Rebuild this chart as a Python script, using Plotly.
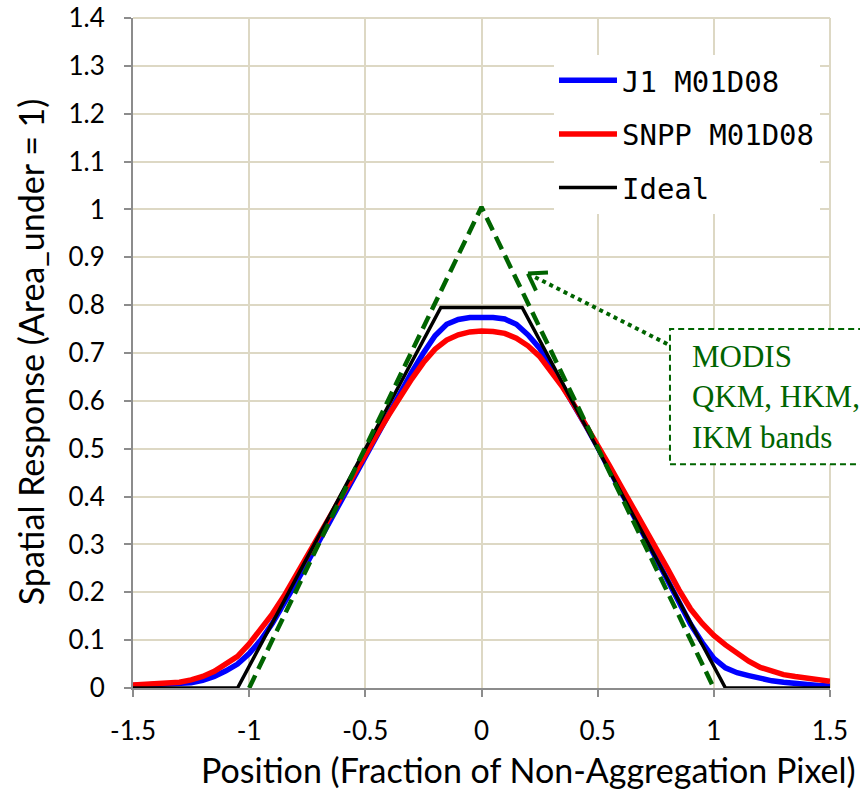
import plotly.graph_objects as go

# ---------------- data ----------------
x_pos = [-1.50, -1.45, -1.40, -1.35, -1.30, -1.25, -1.20, -1.15, -1.10, -1.05,
         -1.00, -0.95, -0.90, -0.85, -0.80, -0.75, -0.70, -0.65, -0.60, -0.55,
         -0.50, -0.45, -0.40, -0.35, -0.30, -0.25, -0.20, -0.15, -0.10, -0.05,
         0.00, 0.05, 0.10, 0.15, 0.20, 0.25, 0.30, 0.35, 0.40, 0.45,
         0.50, 0.55, 0.60, 0.65, 0.70, 0.75, 0.80, 0.85, 0.90, 0.95,
         1.00, 1.05, 1.10, 1.15, 1.20, 1.25, 1.30, 1.35, 1.40, 1.45, 1.50]

j1_m01d08 = [0.005, 0.006, 0.006, 0.007, 0.008, 0.011, 0.016, 0.024, 0.036, 0.050,
             0.072, 0.100, 0.135, 0.175, 0.218, 0.262, 0.306, 0.350, 0.395, 0.440,
             0.486, 0.530, 0.575, 0.618, 0.660, 0.700, 0.736, 0.760, 0.770, 0.774,
             0.775, 0.774, 0.771, 0.760, 0.738, 0.710, 0.672, 0.632, 0.590, 0.547,
             0.503, 0.458, 0.413, 0.367, 0.320, 0.272, 0.226, 0.178, 0.133, 0.095,
             0.062, 0.042, 0.032, 0.026, 0.020, 0.015, 0.012, 0.009, 0.007, 0.005, 0.004]

snpp_m01d08 = [0.006, 0.007, 0.008, 0.009, 0.012, 0.017, 0.024, 0.035, 0.050, 0.066,
               0.092, 0.122, 0.155, 0.192, 0.233, 0.275, 0.318, 0.360, 0.403, 0.446,
               0.490, 0.530, 0.570, 0.610, 0.646, 0.680, 0.708, 0.727, 0.738, 0.744,
               0.746, 0.745, 0.741, 0.731, 0.715, 0.693, 0.662, 0.628, 0.590, 0.550,
               0.508, 0.465, 0.422, 0.380, 0.337, 0.293, 0.250, 0.205, 0.165, 0.135,
               0.110, 0.090, 0.072, 0.056, 0.043, 0.034, 0.028, 0.024, 0.020, 0.017, 0.014]

ideal_x = [-1.5, -1.05, -0.175, 0.175, 1.05, 1.5]
ideal_y = [0.0, 0.0, 0.795, 0.795, 0.0, 0.0]

modis_x = [-1.0, 0.0, 1.0]
modis_y = [0.0, 1.005, 0.0]

x_ticks = [-1.5, -1.0, -0.5, 0.0, 0.5, 1.0, 1.5]
x_ticktext = ["-1.5", "-1", "-0.5", "0", "0.5", "1", "1.5"]
y_ticks = [0.0, 0.1, 0.2, 0.3, 0.4, 0.5, 0.6, 0.7, 0.8, 0.9, 1.0, 1.1, 1.2, 1.3, 1.4]
y_ticktext = ["0", "0.1", "0.2", "0.3", "0.4", "0.5", "0.6", "0.7", "0.8", "0.9",
              "1", "1.1", "1.2", "1.3", "1.4"]

arrow_tip = (0.2, 0.866)
arrow_tail = (0.811, 0.716)

# ---------------- styling ----------------
GREEN = "#006400"
GRID = "#ddd8c4"
AXIS = "#8c8c8c"
TICK_FONT = dict(family="Lato", size=26, color="#000000")

fig = go.Figure()
fig.add_trace(go.Scatter(x=x_pos, y=j1_m01d08, mode="lines", name="J1 M01D08",
                         legendgroup="a", line=dict(color="#0000ff", width=5.5)))
fig.add_trace(go.Scatter(x=x_pos, y=snpp_m01d08, mode="lines", name="SNPP M01D08",
                         legendgroup="b", line=dict(color="#ff0000", width=5.5)))
fig.add_trace(go.Scatter(x=ideal_x, y=ideal_y, mode="lines", name="Ideal",
                         legendgroup="c", line=dict(color="#000000", width=3.5)))
fig.add_trace(go.Scatter(x=modis_x, y=modis_y, mode="lines", name="MODIS",
                         showlegend=False,
                         line=dict(color=GREEN, width=4.5, dash="14px,7px")))

fig.update_layout(
    width=860, height=795,
    margin=dict(l=133, r=30, t=18, b=107, autoexpand=False),
    paper_bgcolor="white", plot_bgcolor="white",
    showlegend=True,
    legend=dict(x=0.604, y=0.945, xanchor="left", yanchor="top",
                bgcolor="white", borderwidth=0,
                font=dict(family="DejaVu Sans Mono", size=29, color="#000000"),
                traceorder="grouped", tracegroupgap=13, itemwidth=58),
    xaxis=dict(range=[-1.5, 1.5], tickvals=x_ticks, ticktext=x_ticktext,
               showgrid=True, gridcolor=GRID, gridwidth=2, zeroline=False,
               showline=True, linecolor=AXIS, linewidth=2,
               ticks="outside", ticklen=7, tickcolor=AXIS, tickwidth=2,
               tickfont=TICK_FONT, ticklabelstandoff=12),
    yaxis=dict(range=[0, 1.4], tickvals=y_ticks, ticktext=y_ticktext,
               showgrid=True, gridcolor=GRID, gridwidth=2, zeroline=False,
               showline=True, linecolor=AXIS, linewidth=2,
               ticks="outside", ticklen=7, tickcolor=AXIS, tickwidth=2,
               tickfont=TICK_FONT, ticklabelstandoff=14),
)

# frame lines at top/right in grid colour
fig.add_shape(type="line", xref="paper", yref="paper", x0=0, x1=1, y0=1, y1=1,
              line=dict(color=GRID, width=2), layer="below")
fig.add_shape(type="line", xref="paper", yref="paper", x0=1, x1=1, y0=0, y1=1,
              line=dict(color=GRID, width=2), layer="below")

# axis titles
fig.add_annotation(text="Position (Fraction of Non-Aggregation Pixel)",
                   xref="paper", yref="paper", x=0.568, y=-0.121,
                   xanchor="center", yanchor="middle", showarrow=False,
                   font=dict(family="Lato", size=34, color="#000000"))
fig.add_annotation(text="Spatial Response (Area_under = 1)",
                   xref="paper", yref="paper", x=-0.146, y=0.5015, textangle=-90,
                   xanchor="center", yanchor="middle", showarrow=False,
                   font=dict(family="Lato", size=34, color="#000000"))

# MODIS callout box
fig.add_shape(type="rect", xref="paper", yref="paper",
              x0=0.7704, x1=1.2, y0=0.334, y1=0.536,
              line=dict(color=GREEN, width=2, dash="6px,4px"),
              fillcolor="white", layer="above")
fig.add_annotation(text="MODIS<br>QKM, HKM,<br>IKM bands",
                   xref="paper", yref="paper", x=0.799, y=0.434,
                   xanchor="left", yanchor="middle", align="left", showarrow=False,
                   font=dict(family="Liberation Serif", size=31, color=GREEN))

# dotted arrow
fig.add_shape(type="line", xref="x", yref="y",
              x0=arrow_tip[0], y0=arrow_tip[1], x1=arrow_tail[0], y1=arrow_tail[1],
              line=dict(color=GREEN, width=4, dash="dot"))
for dx, dy in [(20, 1), (8, -17)]:
    fig.add_shape(type="line", xref="x", yref="y",
                  xsizemode="pixel", ysizemode="pixel",
                  xanchor=arrow_tip[0], yanchor=arrow_tip[1],
                  x0=0, y0=0, x1=dx, y1=dy,
                  line=dict(color=GREEN, width=4))

fig.write_html("out.html")
